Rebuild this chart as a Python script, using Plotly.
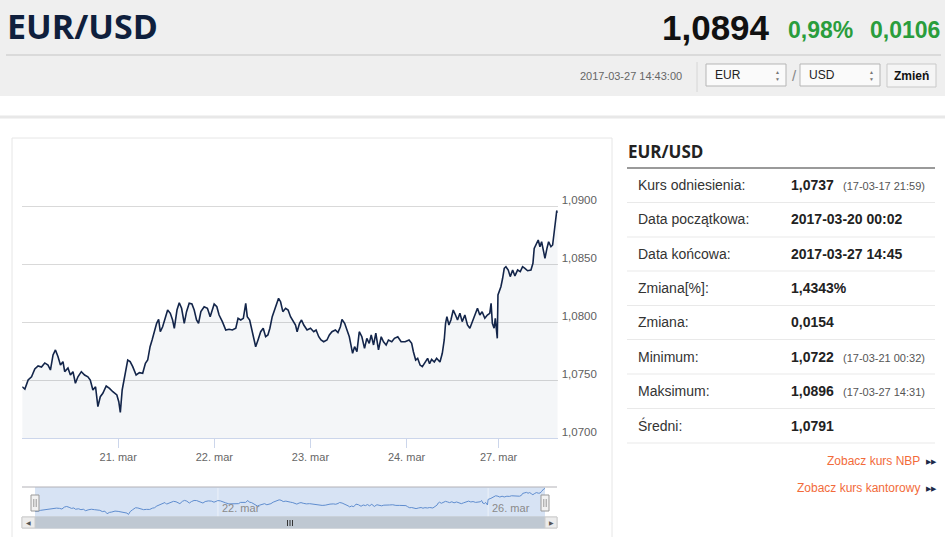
import plotly.graph_objects as go

W, H = 945, 537
BASE = "Liberation Sans, Arial, sans-serif"
HEAD = "Open Sans, Liberation Sans, sans-serif"

PAIR = "EUR/USD"
RATE = "1,0894"
CHANGE_PCT = "0,98%"
CHANGE_ABS = "0,0106"
QUOTE_TIME = "2017-03-27 14:43:00"
FROM_CCY = "EUR"
TO_CCY = "USD"
BUTTON = "Zmień"

# ---- EUR/USD quotes (time of day, value) ----
t20 = ["00:02", "00:42", "01:31", "02:22", "03:11", "04:00", "04:51", "05:40", "06:29", "07:05",
       "07:44", "08:20", "08:59", "09:35", "10:13", "10:39", "11:28", "12:04", "12:43", "13:19",
       "13:57", "14:48", "15:37", "16:26", "17:02", "17:41", "18:21", "18:56", "19:32", "20:10",
       "21:01", "21:50", "22:40", "23:40"]
v20 = [1.07442, 1.07422, 1.07500, 1.07528, 1.07595, 1.07621, 1.07612, 1.07647, 1.07629, 1.07586,
       1.07716, 1.07759, 1.07701, 1.07629, 1.07658, 1.07572, 1.07603, 1.07543, 1.07572, 1.07472,
       1.07528, 1.07572, 1.07543, 1.07528, 1.07500, 1.07414, 1.07442, 1.07270, 1.07356, 1.07385,
       1.07448, 1.07428, 1.07399, 1.07371]
t21 = ["00:09", "00:32", "01:00", "01:34", "02:23", "02:59", "03:38", "04:29", "05:18", "06:07",
       "06:48", "07:22", "07:58", "08:28", "09:02", "09:36", "10:06", "10:31", "11:06", "11:57",
       "12:21", "13:01", "13:35", "14:01", "14:41", "15:15", "15:50", "16:30", "17:04", "17:44",
       "18:25", "18:59", "19:34", "20:04", "20:39", "21:28", "22:17", "22:58", "23:32", "23:58"]
v21 = [1.07313, 1.07220, 1.07414, 1.07528, 1.07672, 1.07658, 1.07615, 1.07543, 1.07563, 1.07558,
       1.07644, 1.07672, 1.07787, 1.07845, 1.07931, 1.07989, 1.08023, 1.07916, 1.07959, 1.08046,
       1.08103, 1.08075, 1.08017, 1.07946, 1.08103, 1.08166, 1.08118, 1.07989, 1.08089, 1.08161,
       1.08155, 1.08103, 1.08017, 1.07989, 1.08089, 1.08132, 1.08118, 1.08046, 1.08103, 1.08155]
t22 = ["00:38", "01:12", "02:01", "02:52", "03:41", "04:31", "05:22", "05:56", "06:36", "07:15",
       "07:51", "08:14", "08:50", "09:29", "10:20", "10:55", "11:35", "12:13", "12:49", "13:23",
       "13:53", "14:28", "15:04", "15:34", "16:03", "16:33", "17:07", "17:48", "18:26", "19:02",
       "19:37", "20:17", "20:41", "21:17", "21:47", "22:21", "23:10"]
v22 = [1.08132, 1.08060, 1.08003, 1.07931, 1.07937, 1.07931, 1.07946, 1.08032, 1.08017, 1.08032,
       1.08161, 1.08046, 1.08017, 1.07903, 1.07787, 1.07845, 1.07916, 1.07946, 1.07873, 1.07888,
       1.07946, 1.08046, 1.08103, 1.08161, 1.08204, 1.08175, 1.08089, 1.08118, 1.08103, 1.08046,
       1.08017, 1.07974, 1.07916, 1.07989, 1.08017, 1.07974, 1.07931]
t23 = ["00:01", "00:50", "01:25", "02:05", "02:39", "03:19", "04:08", "04:44", "05:23", "06:14",
       "06:53", "07:29", "07:53", "08:33", "09:07", "09:43", "10:07", "10:32", "11:02", "11:37",
       "12:12", "12:51", "13:31", "14:05", "14:41", "15:11", "15:46", "16:20", "17:00", "17:41",
       "18:15", "18:55", "19:29", "20:19", "20:59", "21:49", "22:39", "23:39"]
v23 = [1.07946, 1.07916, 1.07931, 1.07873, 1.07845, 1.07830, 1.07845, 1.07888, 1.07916, 1.07931,
       1.07908, 1.07959, 1.08023, 1.07989, 1.07931, 1.07873, 1.07802, 1.07730, 1.07787, 1.07744,
       1.07916, 1.07873, 1.07773, 1.07859, 1.07816, 1.07888, 1.07802, 1.07903, 1.07759, 1.07873,
       1.07830, 1.07802, 1.07845, 1.07830, 1.07859, 1.07873, 1.07830, 1.07830]
t24 = ["00:38", "01:17", "01:43", "02:17", "02:47", "03:23", "03:57", "04:37", "05:16", "05:45",
       "06:16", "06:56", "07:31", "08:21", "08:56", "09:25", "09:45", "10:05", "10:35", "11:05",
       "11:40", "12:14", "12:44", "13:20", "13:54", "14:34", "15:13", "15:49", "16:23", "17:04",
       "17:43", "18:18", "18:53", "19:33", "20:11", "20:47", "21:07", "21:26", "21:52", "22:10",
       "22:40"]
v24 = [1.07845, 1.07816, 1.07744, 1.07672, 1.07687, 1.07629, 1.07615, 1.07658, 1.07687, 1.07640,
       1.07678, 1.07655, 1.07687, 1.07655, 1.07730, 1.07845, 1.07989, 1.08046, 1.07974, 1.08017,
       1.08103, 1.08060, 1.08017, 1.08075, 1.08003, 1.08060, 1.07974, 1.07946, 1.08003, 1.08060,
       1.08118, 1.08060, 1.08089, 1.08032, 1.08060, 1.08075, 1.08161, 1.07989, 1.07946, 1.08032,
       1.07859]
t26 = ["23:50"]
v26 = [1.08233]
t27 = ["00:34", "01:00", "01:24", "01:49", "02:24", "02:54", "03:30", "04:04", "04:45", "05:24",
       "05:59", "06:34", "07:14", "08:04", "08:34", "08:53", "09:29", "09:53", "10:19", "10:44",
       "11:14", "11:34", "12:04", "12:29", "13:04", "13:29", "13:53", "14:18", "14:31", "14:45"]
v27 = [1.08304, 1.08377, 1.08463, 1.08477, 1.08448, 1.08391, 1.08448, 1.08397, 1.08448, 1.08434,
       1.08477, 1.08463, 1.08442, 1.08448, 1.08506, 1.08635, 1.08678, 1.08707, 1.08649, 1.08692,
       1.08606, 1.08549, 1.08635, 1.08692, 1.08649, 1.08664, 1.08778, 1.08879, 1.08960, 1.08940]

days = [("2017-03-20", t20, v20), ("2017-03-21", t21, v21), ("2017-03-22", t22, v22),
        ("2017-03-23", t23, v23), ("2017-03-24", t24, v24), ("2017-03-26", t26, v26),
        ("2017-03-27", t27, v27)]
x_times = [f"{d} {t}" for d, ts, vs in days for t in ts]
y_vals = [v for d, ts, vs in days for v in vs]

WEEKEND_GAP = ["2017-03-24 22:50", "2017-03-26 23:50"]

x_tick_dates = ["2017-03-21", "2017-03-22", "2017-03-23", "2017-03-24", "2017-03-27"]
x_tick_text = ["21. mar", "22. mar", "23. mar", "24. mar", "27. mar"]
y_tick_vals = [1.0700, 1.0750, 1.0800, 1.0850, 1.0900, 1.0950]
y_tick_text = ["1,0700", "1,0750", "1,0800", "1,0850", "1,0900", ""]
nav_tick_dates = ["2017-03-22", "2017-03-26 23:50"]
nav_tick_text = ["22. mar", "26. mar"]

table_labels = ["Kurs odniesienia:", "Data początkowa:", "Data końcowa:", "Zmiana[%]:",
                "Zmiana:", "Minimum:", "Maksimum:", "Średni:"]
table_values = ["1,0737", "2017-03-20 00:02", "2017-03-27 14:45", "1,4343%",
                "0,0154", "1,0722", "1,0896", "1,0791"]
table_notes = ["(17-03-17 21:59)", "", "", "", "", "(17-03-21 00:32)", "(17-03-27 14:31)", ""]
links = ["Zobacz kurs NBP", "Zobacz kurs kantorowy"]

# ---------------------------------------------------------------------------
def px(x):
    return x / W


def py(y):
    return 1 - y / H


shapes = []
ann = []


def rect(x0, y0, x1, y1, fill="rgba(0,0,0,0)", line="rgba(0,0,0,0)", lw=1, layer="below"):
    shapes.append(dict(type="rect", xref="paper", yref="paper", x0=px(x0), x1=px(x1),
                       y0=py(y1), y1=py(y0), fillcolor=fill, line=dict(color=line, width=lw),
                       layer=layer))


def seg(x0, y0, x1, y1, color, lw=1, layer="below"):
    shapes.append(dict(type="line", xref="paper", yref="paper", x0=px(x0), x1=px(x1),
                       y0=py(y0), y1=py(y1), line=dict(color=color, width=lw), layer=layer))


def txt(x, y, s, size, color, xanchor="left", family=BASE, bold=False):
    ann.append(dict(xref="paper", yref="paper", x=px(x), y=py(y),
                    text=f"<b>{s}</b>" if bold else s, showarrow=False,
                    xanchor=xanchor, yanchor="middle", borderpad=0,
                    font=dict(size=size, color=color, family=family)))


# header
rect(0, 0, W, 96, fill="#efefef")
seg(6, 55, 941, 55, "#dadada", 2)
seg(0, 117, W, 117, "#e8e8e8", 3)
txt(6, 26, PAIR, 34, "#0f1f3d", family=HEAD, bold=True)
txt(771, 27, RATE, 35, "#111111", xanchor="right", bold=True)
txt(854, 30, CHANGE_PCT, 23, "#2a9d3c", xanchor="right", bold=True)
txt(941, 30, CHANGE_ABS, 23, "#2a9d3c", xanchor="right", bold=True)
txt(683, 76, QUOTE_TIME, 11, "#666666", xanchor="right")
seg(697, 62, 697, 92, "#d6d6d6", 1)
for (x0, x1, lab) in [(706, 786, FROM_CCY), (800, 880, TO_CCY)]:
    rect(x0, 64, x1, 86, fill="#fafafa", line="#b5b5b5")
    txt(x0 + 8, 75, lab, 12, "#222222")
    txt(x1 - 9, 71.5, "▲", 5, "#777777", xanchor="center")
    txt(x1 - 9, 78.5, "▼", 5, "#777777", xanchor="center")
txt(794, 76, "/", 15, "#888888", xanchor="center")
rect(887, 64, 936, 87, fill="#f5f5f5", line="#c9c9c9")
txt(911.5, 75.5, BUTTON, 12, "#111111", xanchor="center", bold=True)

# chart container
rect(12, 138, 612, 560, line="#e6e6e6")

# navigator + scrollbar decorations
rect(35, 487, 545, 517, fill="#d7e3f4")
seg(22, 487, 557, 487, "#b2b1b6", 1)
for d in nav_tick_dates:
    shapes.append(dict(type="line", xref="x2", yref="paper", x0=d, x1=d, y0=py(517), y1=py(488),
                       line=dict(color="rgba(255,255,255,0.55)", width=1), layer="below"))
rect(22, 517, 557, 528, fill="#f2f2f2", line="#d0d0d0")
rect(35, 517, 545, 528, fill="#bfc8d2", line="#bfc8d2")
rect(22, 517, 35, 528, fill="#ececec", line="#cccccc")
rect(545, 517, 557, 528, fill="#ececec", line="#cccccc")
txt(28.5, 522.5, "◀", 6, "#555555", xanchor="center")
txt(551, 522.5, "▶", 6, "#555555", xanchor="center")
for xx in (287.5, 290, 292.5):
    seg(xx, 520, xx, 526, "#333333", 1, layer="above")

# right panel
txt(627, 151, PAIR, 17, "#222222", family=HEAD, bold=True)
seg(627, 168, 935, 168, "#9a9a9a", 2)
row_y = [185, 219.5, 253.5, 288, 322, 356.5, 391, 425.5]
for i, (lab, val, note) in enumerate(zip(table_labels, table_values, table_notes)):
    y = row_y[i]
    txt(637, y, lab, 14, "#333333")
    txt(790, y, val, 14, "#222222", bold=True)
    if note:
        txt(842, y + 1, note, 11, "#555555")
    seg(627, y + 17.5, 935, y + 17.5, "#e9e9e9", 1)
for lab, y in zip(links, [461, 488]):
    txt(921, y, lab, 12, "#f26b3a", xanchor="right")
    txt(925, y + 0.5, "▶▶", 7, "#1c2a48")

# navigator handles (drawn above)
for hx in (35, 545):
    rect(hx - 4, 495, hx + 4, 511, fill="#f2f2f2", line="#999999", layer="above")
    for dx in (-1.2, 1.2):
        seg(hx + dx, 499, hx + dx, 507, "#999999", 1, layer="above")

for d, lab in zip(nav_tick_dates, nav_tick_text):
    ann.append(dict(xref="x2", yref="paper", x=d, y=py(508), text=lab, showarrow=False,
                    xanchor="left", yanchor="middle", xshift=2,
                    font=dict(size=11, color="#8a8a8a", family=BASE)))

fig = go.Figure()
fig.add_trace(go.Scatter(x=x_times, y=y_vals, mode="lines", xaxis="x", yaxis="y",
                         line=dict(color="#13254a", width=1.6),
                         fill="tozeroy", fillcolor="rgba(40,70,120,0.05)",
                         hoverinfo="skip", showlegend=False))
fig.add_trace(go.Scatter(x=x_times, y=y_vals, mode="lines", xaxis="x2", yaxis="y2",
                         line=dict(color="#5f8dcf", width=1),
                         hoverinfo="skip", showlegend=False))

xr = [x_times[0], x_times[-1]]
fig.update_layout(
    width=W, height=H, autosize=False,
    margin=dict(l=0, r=0, t=0, b=0, pad=0, autoexpand=False),
    paper_bgcolor="#ffffff", plot_bgcolor="rgba(0,0,0,0)",
    font=dict(family=BASE),
    showlegend=False,
    xaxis=dict(domain=[px(22.2), px(557.7)], type="date", range=xr,
               rangebreaks=[dict(bounds=WEEKEND_GAP)],
               tickvals=x_tick_dates, ticktext=x_tick_text,
               ticks="outside", ticklen=9, tickcolor="#ccd6eb", tickwidth=1,
               showline=True, linecolor="#ccd6eb", linewidth=1,
               showgrid=False, zeroline=False, anchor="y", automargin=False,
               tickfont=dict(size=11, color="#666666", family=BASE), fixedrange=True),
    yaxis=dict(domain=[py(438), py(148)], range=[1.0700, 1.0950], side="right",
               tickvals=y_tick_vals, ticktext=y_tick_text, ticks="",
               showgrid=True, gridcolor="#d9d9d9", gridwidth=1, zeroline=False,
               showline=False, anchor="x", ticklabelshift=-6, ticklabelstandoff=3,
               automargin=False,
               tickfont=dict(size=11.5, color="#606060", family=BASE), fixedrange=True),
    xaxis2=dict(domain=[px(35), px(545)], type="date", range=xr,
                rangebreaks=[dict(bounds=WEEKEND_GAP)],
                showticklabels=False, showgrid=False, zeroline=False, showline=False,
                ticks="", anchor="y2", fixedrange=True, automargin=False),
    yaxis2=dict(domain=[py(517), py(488)], range=[1.0705, 1.0900],
                showticklabels=False, showgrid=False, zeroline=False, showline=False,
                ticks="", anchor="x2", fixedrange=True, automargin=False),
    shapes=shapes,
    annotations=ann,
)

fig.write_html("out.html", config={"displayModeBar": False, "staticPlot": True},
               post_script="document.body.style.margin='0';document.body.style.overflow='hidden';")
